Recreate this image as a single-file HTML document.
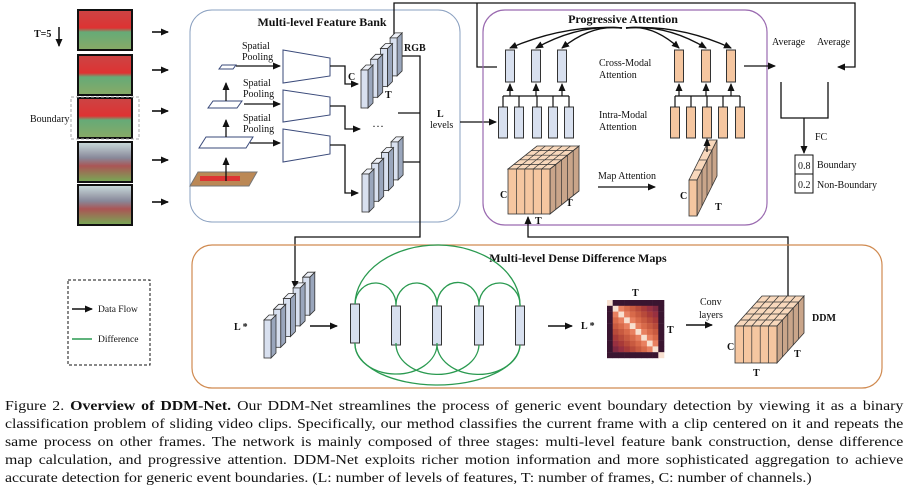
<!DOCTYPE html>
<html><head><meta charset="utf-8"><style>
body{margin:0;width:909px;height:500px;background:#fff;overflow:hidden;font-family:"Liberation Serif",serif}
svg{position:absolute;left:0;top:0}
.cap{position:absolute;left:5px;width:788px;font-size:13.9px;line-height:18px;color:#111;transform:scaleX(1.14);transform-origin:0 0}
.cap span.l{display:block;text-align:justify;text-align-last:justify;white-space:nowrap}
</style></head><body>
<svg id="s" width="909" height="400" viewBox="0 0 909 400" font-family="Liberation Serif, serif" fill="none" stroke="#111">
<defs>
<marker id="a" markerWidth="8" markerHeight="8" refX="7" refY="4" orient="auto" markerUnits="userSpaceOnUse"><path d="M0,0.5 L8,4 L0,7.5z" fill="#111" stroke="none"/></marker>
<linearGradient id="g1" x1="0" y1="0" x2="0" y2="1"><stop offset="0" stop-color="#c44"/><stop offset="0.45" stop-color="#d33"/><stop offset="0.55" stop-color="#6a7"/><stop offset="1" stop-color="#8a6"/></linearGradient>
<linearGradient id="g2" x1="0" y1="0" x2="0" y2="1"><stop offset="0" stop-color="#cdd"/><stop offset="0.4" stop-color="#889"/><stop offset="0.6" stop-color="#a55"/><stop offset="1" stop-color="#7a5"/></linearGradient>
</defs>
<g stroke="#111" stroke-width="2">
<rect x="78" y="10" width="54" height="40" fill="url(#g1)"/>
<rect x="78" y="55" width="54" height="40" fill="url(#g1)"/>
<rect x="78" y="98" width="54" height="40" fill="url(#g1)"/>
<rect x="78" y="142" width="54" height="40" fill="url(#g2)"/>
<rect x="78" y="185" width="54" height="40" fill="url(#g2)"/>
</g>
<rect x="71" y="97" width="68" height="42" stroke="#aaa" stroke-dasharray="3,2" stroke-width="1"/>
<g fill="#111" stroke="none" font-size="10">
<text x="34" y="37" font-weight="bold">T=5</text>
<text x="30" y="122">Boundary</text>
</g>
<line x1="59" y1="27" x2="59" y2="46" stroke-width="1.5" marker-end="url(#a)"/>
<g stroke-width="1.6" marker-end="url(#a)">
<line x1="152" y1="32" x2="168" y2="32"/><line x1="152" y1="70" x2="168" y2="70"/><line x1="152" y1="111" x2="168" y2="111"/><line x1="152" y1="160" x2="168" y2="160"/><line x1="152" y1="202" x2="168" y2="202"/>
</g>
<rect x="190" y="10" width="270" height="212" rx="22" stroke="#8aa0c0" stroke-width="1"/>
<text x="322" y="26" fill="#111" stroke="none" font-size="12" font-weight="bold" text-anchor="middle">Multi-level Feature Bank</text>
<g fill="#111" stroke="none" font-size="10">
<text x="242" y="49">Spatial</text><text x="242" y="60">Pooling</text>
<text x="243" y="86">Spatial</text><text x="243" y="97">Pooling</text>
<text x="243" y="121">Spatial</text><text x="243" y="132">Pooling</text>
<text x="289" y="65">Temporal</text><text x="289" y="77">Conv</text>
<text x="289" y="105">Temporal</text><text x="289" y="117">Conv</text>
<text x="289" y="144">Temporal</text><text x="289" y="156">Conv</text>
<text x="348" y="80" font-weight="bold">C</text>
<text x="385" y="98" font-weight="bold">T</text>
<text x="404" y="51" font-weight="bold">RGB</text>
<text x="437" y="117" font-weight="bold">L</text>
<text x="430" y="128">levels</text>
<text x="372" y="130" font-size="12">···</text>
</g>
<g stroke="#3a4a7a" stroke-width="1" fill="#fff">
<polygon points="283,50 330,58 330,76 283,83"/>
<polygon points="283,90 330,97 330,115 283,122"/>
<polygon points="283,129 330,136 330,154 283,162"/>
<polygon points="222,65 236,65 233,69 219,69"/>
<polygon points="213,101 242,101 237,108 208,108"/>
<polygon points="206,137 253,137 246,148 199,148"/>
</g>
<polygon points="198,172 257,172 249,186 190,186" fill="#b85" stroke="#777"/>
<rect x="200" y="176" width="40" height="5" fill="#d33" stroke="none"/>
<g stroke-width="1.3">
<line x1="236" y1="66" x2="280" y2="66" marker-end="url(#a)"/>
<line x1="244" y1="104" x2="280" y2="104" marker-end="url(#a)"/>
<line x1="250" y1="143" x2="280" y2="143" marker-end="url(#a)"/>
<line x1="226" y1="101" x2="226" y2="83" marker-end="url(#a)"/>
<line x1="226" y1="137" x2="226" y2="120" marker-end="url(#a)"/>
<line x1="226" y1="181" x2="226" y2="158" marker-end="url(#a)"/>
<polyline points="330,66 345,66 345,84 358,84" marker-end="url(#a)"/>
<polyline points="330,106 345,106 345,129 360,129" marker-end="url(#a)"/>
<polyline points="330,145 345,145 345,193 358,193" marker-end="url(#a)"/>
<polyline points="400,56 420,56 420,237 295,237 295,288" marker-end="url(#a)"/>
<line x1="400" y1="162" x2="420" y2="162"/>
<line x1="398" y1="113" x2="420" y2="113"/>
<polyline points="394,38 394,3 855,3 855,67 838,67" marker-end="url(#a)"/>
<polyline points="477,3 477,67 497,67"/>
<line x1="460" y1="122" x2="496" y2="122" marker-end="url(#a)"/>
</g>
<g id="stacks"></g>
<rect x="483" y="10" width="284" height="215" rx="22" stroke="#9a6ab0" stroke-width="1.2"/>
<text x="623" y="23" fill="#111" stroke="none" font-size="12" font-weight="bold" text-anchor="middle">Progressive Attention</text>
<g fill="#111" stroke="none" font-size="10">
<text x="599" y="66">Cross-Modal</text><text x="599" y="78">Attention</text>
<text x="599" y="118">Intra-Modal</text><text x="599" y="130">Attention</text>
<text x="598" y="179">Map Attention</text>
<text x="500" y="198" font-weight="bold">C</text><text x="566" y="206" font-weight="bold">T</text><text x="535" y="224" font-weight="bold">T</text>
<text x="680" y="199" font-weight="bold">C</text><text x="715" y="210" font-weight="bold">T</text>
<text x="772" y="45">Average</text><text x="817" y="45">Average</text>
<text x="815" y="140">FC</text>
<text x="817" y="168">Boundary</text><text x="817" y="188">Non-Boundary</text>
<text x="798" y="169">0.8</text><text x="798" y="188">0.2</text>
</g>
<line x1="598" y1="187" x2="655" y2="187" stroke-width="1.3" marker-end="url(#a)"/>
<g id="pa"></g>
<rect x="795" y="155" width="18" height="38" stroke-width="1"/><line x1="795" y1="174" x2="813" y2="174" stroke-width="1"/>
<g stroke-width="1.3">
<line x1="744" y1="66" x2="775" y2="66" marker-end="url(#a)"/>
<polyline points="781,82 781,118 828,118 828,82"/>
<line x1="804" y1="118" x2="804" y2="153" marker-end="url(#a)"/>
<polyline points="788,300 788,237 528,237 528,217" marker-end="url(#a)"/>
<line x1="707" y1="152" x2="707" y2="139" marker-end="url(#a)"/>
</g>
<rect x="192" y="245" width="690" height="143" rx="20" stroke="#d08a50" stroke-width="1.2"/>
<text x="578" y="262" fill="#111" stroke="none" font-size="12" font-weight="bold" text-anchor="middle">Multi-level Dense Difference Maps</text>
<rect x="68" y="280" width="82" height="85" stroke-dasharray="3,2" stroke-width="1"/>
<line x1="72" y1="309" x2="92" y2="309" stroke-width="1.5" marker-end="url(#a)"/>
<line x1="72" y1="339" x2="92" y2="339" stroke="#2a9a50" stroke-width="1.5"/>
<g fill="#111" stroke="none" font-size="9.5">
<text x="98" y="312">Data Flow</text><text x="98" y="342">Difference</text>
<text x="234" y="330" font-weight="bold" font-size="10">L *</text>
<text x="581" y="329" font-weight="bold" font-size="10">L *</text>
<text x="632" y="296" font-weight="bold" font-size="10">T</text>
<text x="667" y="333" font-weight="bold" font-size="10">T</text>
<text x="700" y="305" font-size="10">Conv</text><text x="699" y="318" font-size="10">layers</text>
<text x="812" y="321" font-weight="bold" font-size="10">DDM</text>
<text x="727" y="350" font-weight="bold" font-size="10">C</text>
<text x="794" y="357" font-weight="bold" font-size="10">T</text>
<text x="753" y="376" font-weight="bold" font-size="10">T</text>
</g>
<g stroke-width="1.4" marker-end="url(#a)">
<line x1="310" y1="326" x2="337" y2="326"/><line x1="548" y1="326" x2="572" y2="326"/><line x1="686" y1="325" x2="712" y2="325"/>
</g>
<g id="ddm"></g>
<g id="hm"></g>
</svg>
<div class="cap" style="top:398px"><span class="l">Figure 2. <b>Overview of DDM-Net.</b> Our DDM-Net streamlines the process of generic event boundary detection by viewing it as a binary</span><span class="l">classification problem of sliding video clips. Specifically, our method classifies the current frame with a clip centered on it and repeats the</span><span class="l">same process on other frames. The network is mainly composed of three stages: multi-level feature bank construction, dense difference</span><span class="l">map calculation, and progressive attention. DDM-Net exploits richer motion information and more sophisticated aggregation to achieve</span><span class="l" style="text-align-last:left">accurate detection for generic event boundaries. (L: number of levels of features, T: number of frames, C: number of channels.)</span></div>
<script>
var NS="http://www.w3.org/2000/svg";
function el(p,t,a){var e=document.createElementNS(NS,t);for(var k in a)e.setAttribute(k,a[k]);p.appendChild(e);return e;}
var S=document.getElementById("stacks");
function stack(x,y,n){for(var i=n-1;i>=0;i--){var X=x+i*9.7,Y=y-i*10.7,w=7,h=38;
el(S,"polygon",{points:[X+w,Y,X+w+5,Y-5,X+w+5,Y+h-5,X+w,Y+h].join(","),fill:"#9aa6bc",stroke:"#333","stroke-width":0.8});
el(S,"polygon",{points:[X,Y,X+5,Y-5,X+w+5,Y-5,X+w,Y].join(","),fill:"#eef1f8",stroke:"#333","stroke-width":0.8});
el(S,"rect",{x:X,y:Y,width:w,height:h,fill:"#d8e0ef",stroke:"#333","stroke-width":0.8});}}
stack(361,70,4);stack(362,174,4);stack(264,320,5);
var P=document.getElementById("pa");
function bar(x,y,w,h,c){el(P,"rect",{x:x,y:y,width:w,height:h,fill:c,stroke:"#333","stroke-width":1});}
var bc=[510,536,562],oc=[679,706,731],bi=[503,519,537,553,569],oi=[675,691,707,723,740];
bc.forEach(function(c){bar(c-4.5,50,9,32,"#d8e0ef");});oc.forEach(function(c){bar(c-4.5,50,9,32,"#f5c6a0");});
bi.forEach(function(c){bar(c-4.5,107,9,31,"#d8e0ef");});oi.forEach(function(c){bar(c-4.5,107,9,31,"#f5c6a0");});
function tree(inn,out){el(P,"line",{x1:inn[0],y1:96,x2:inn[4],y2:96,stroke:"#111","stroke-width":1.2});
inn.forEach(function(c){el(P,"line",{x1:c,y1:96,x2:c,y2:107,stroke:"#111","stroke-width":1.2});});
out.forEach(function(c){el(P,"line",{x1:c,y1:96,x2:c,y2:84,stroke:"#111","stroke-width":1.2,"marker-end":"url(#a)"});});}
tree(bi,bc);tree(oi,oc);
[510,536,562,679,706,731].forEach(function(c){var d=c<620?"M622,28 Q"+((622+c)/2)+",24 "+c+",48":"M626,28 Q"+((626+c)/2)+",24 "+c+",48";
el(P,"path",{d:d,stroke:"#111","stroke-width":1.4,fill:"none","marker-end":"url(#a)"});});
function cube(g,x,y,w,h,dx,dy,nc,nd){
el(g,"polygon",{points:[x+w,y,x+w+dx,y+dy,x+w+dx,y+h+dy,x+w,y+h].join(","),fill:"#c9a58a",stroke:"#333","stroke-width":0.8});
for(var j=1;j<nd;j++){var f=j/nd;el(g,"line",{x1:x+w+dx*f,y1:y+dy*f,x2:x+w+dx*f,y2:y+h+dy*f,stroke:"#333","stroke-width":0.7});}
el(g,"polygon",{points:[x,y,x+dx,y+dy,x+w+dx,y+dy,x+w,y].join(","),fill:"#f8d8bc",stroke:"#333","stroke-width":0.8});
for(var j=1;j<nd;j++){var f=j/nd;el(g,"line",{x1:x+dx*f,y1:y+dy*f,x2:x+w+dx*f,y2:y+dy*f,stroke:"#333","stroke-width":0.7});}
for(var i=1;i<nc;i++){var xx=x+w*i/nc;el(g,"line",{x1:xx,y1:y,x2:xx+dx,y2:y+dy,stroke:"#333","stroke-width":0.7});}
el(g,"rect",{x:x,y:y,width:w,height:h,fill:"#f5c6a0",stroke:"#333","stroke-width":0.8});
for(var i=1;i<nc;i++){var xx=x+w*i/nc;el(g,"line",{x1:xx,y1:y,x2:xx,y2:y+h,stroke:"#333","stroke-width":0.7});}}
cube(P,508,169,42,45,29,-23,5,5);
cube(P,689,180,8,36,20,-40,1,4);
var D=document.getElementById("ddm");
cube(D,735,326,42,37,27,-30,5,5);
[355,396,437,479,520].forEach(function(c,i){el(D,"rect",{x:c-4.5,y:304+(i?2:0),width:9,height:39,fill:"#d8e0ef",stroke:"#333","stroke-width":1});});
var xs=[355,396,437,479,520],gs={stroke:"#2a9a50","stroke-width":1.3,fill:"none"};
function gp(d){var o={d:d};for(var k in gs)o[k]=gs[k];el(D,"path",o);}
for(var i=0;i<4;i++){gp("M"+xs[i]+",304 A20.5,22 0 0 1 "+xs[i+1]+",306");}
for(var i=0;i<3;i++){gp("M"+xs[i]+",343 A41,30 0 0 0 "+xs[i+2]+",345");}
gp("M355,304 A82.5,60 0 0 1 520,306");
gp("M355,343 A82.5,41 0 0 0 520,345");
var H=document.getElementById("hm");var n=10,sz=57/n;
for(var r=0;r<n;r++)for(var c=0;c<n;c++){var col;if(r==c)col="#f8e0d0";else{var d=Math.abs(r-c);var edge=(r==0||c==0||r==n-1||c==n-1);col=edge?"#3a1530":["#e88060","#d86a4a","#c85a40","#b84a3a","#a83a38","#983040","#802840","#602040","#502040"][Math.min(d-1,8)];}
el(H,"rect",{x:607+c*sz,y:300+r*sz*58/57,width:sz+0.3,height:sz+0.3,fill:col,stroke:"none"});}
</script>
</body></html>
